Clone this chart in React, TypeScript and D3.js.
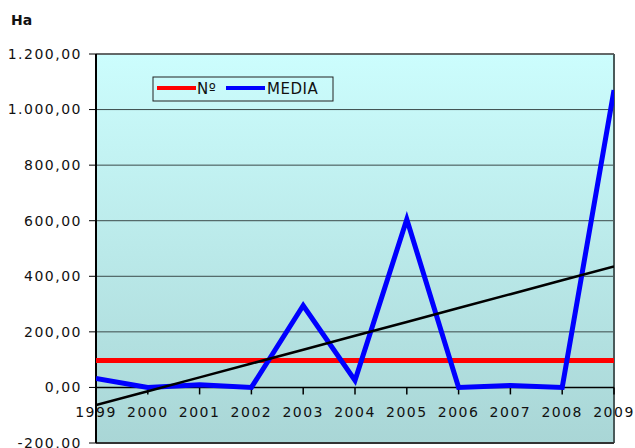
import React from "react";
import * as d3 from "d3";

const years = ["1999", "2000", "2001", "2002", "2003", "2004", "2005", "2006", "2007", "2008", "2009"];
const media = [32, 0, 10, 0, 295, 25, 605, 0, 7, 0, 1070];
const numero = [97, 97, 97, 97, 97, 97, 97, 97, 97, 97, 97];
const yTicks = [-200, 0, 200, 400, 600, 800, 1000, 1200];

const W = 635;
const H = 448;
const left = 96;
const right = 614;
const top = 54;
const bottom = 443;

const fmt = (v: number) => {
  const s = d3.format(",.2f")(v);
  return s.replace(/,/g, "#").replace(".", ",").replace(/#/g, ".").replace("−", "-");
};

const App = () => {
  const x = d3.scalePoint<string>().domain(years).range([left, right]);
  const y = d3.scaleLinear().domain([-200, 1200]).range([bottom, top]);

  // linear trend of MEDIA
  const idx = media.map((_, i) => i);
  const mx = d3.mean(idx) as number;
  const my = d3.mean(media) as number;
  const slope =
    d3.sum(idx, (i) => (i - mx) * (media[i] - my)) / d3.sum(idx, (i) => (i - mx) ** 2);
  const icpt = my - slope * mx;
  const trend = idx.map((i) => icpt + slope * i);

  const line = d3
    .line<number>()
    .x((_, i) => x(years[i]) as number)
    .y((d) => y(d));

  const font = "'DejaVu Sans', Verdana, sans-serif";

  return (
    <svg
      width={W}
      height={H}
      style={{ position: "absolute", left: 0, top: 0, background: "#fff" }}
      fontFamily={font}
    >
      <defs>
        <linearGradient id="bg" x1="0" y1="0" x2="0" y2="1">
          <stop offset="0%" stopColor="#ccfdfd" />
          <stop offset="100%" stopColor="#a9d6d6" />
        </linearGradient>
        <clipPath id="clip">
          <rect x={left} y={top - 5} width={right - left} height={bottom - top + 5} />
        </clipPath>
      </defs>
      <rect x={left} y={top} width={right - left} height={bottom - top} fill="url(#bg)" />
      {yTicks.map((t) => (
        <g key={t}>
          {t !== -200 && t !== 0 && (
            <line x1={left} x2={right} y1={y(t)} y2={y(t)} stroke="#3a4a4a" strokeWidth={1} />
          )}
          <line x1={left - 7} x2={left} y1={y(t)} y2={y(t)} stroke="#000" />
          <text
            x={82}
            y={y(t)}
            dy="0.35em"
            textAnchor="end"
            fontSize={14}
            letterSpacing={1.5}
            fill="#111"
          >
            {fmt(t)}
          </text>
        </g>
      ))}
      <line x1={left} x2={right} y1={top} y2={top} stroke="#555" strokeWidth={1.5} />
      <line x1={right} x2={right} y1={top} y2={bottom} stroke="#4a5a5a" strokeWidth={2} />
      <line x1={left} x2={right} y1={bottom} y2={bottom} stroke="#333" strokeWidth={2} />
      <line x1={left} x2={left} y1={top} y2={bottom} stroke="#000" strokeWidth={2} />
      <line x1={left} x2={right} y1={y(0)} y2={y(0)} stroke="#000" strokeWidth={1.5} />
      {years.map((yr) => (
        <g key={yr}>
          <line x1={x(yr)} x2={x(yr)} y1={y(0)} y2={y(0) + 7} stroke="#000" strokeWidth={1.5} />
          <text
            x={x(yr)}
            y={y(0) + 30}
            textAnchor="middle"
            fontSize={14}
            letterSpacing={1.5}
            fill="#111"
          >
            {yr}
          </text>
        </g>
      ))}
      <g clipPath="url(#clip)">
        <path d={line(numero) ?? ""} fill="none" stroke="#ff0000" strokeWidth={5} />
        <path d={line(media) ?? ""} fill="none" stroke="#0000ff" strokeWidth={5} strokeLinejoin="miter" />
        <path d={line(trend) ?? ""} fill="none" stroke="#000" strokeWidth={2.5} />
      </g>
      <g>
        <rect x={153} y={77} width={180} height={24} fill="none" stroke="#222" strokeWidth={1} />
        <line x1={157} x2={196} y1={88} y2={88} stroke="#ff0000" strokeWidth={4} />
        <text x={197} y={89} dy="0.35em" fontSize={15} letterSpacing={0.5} fill="#111">
          Nº
        </text>
        <line x1={226} x2={265} y1={88} y2={88} stroke="#0000ff" strokeWidth={4} />
        <text x={267} y={89} dy="0.35em" fontSize={15} letterSpacing={0.5} fill="#111">
          MEDIA
        </text>
      </g>
      <text x={11} y={25} fontSize={14} fontWeight="bold" fill="#111">
        Ha
      </text>
    </svg>
  );
};

export default App;
